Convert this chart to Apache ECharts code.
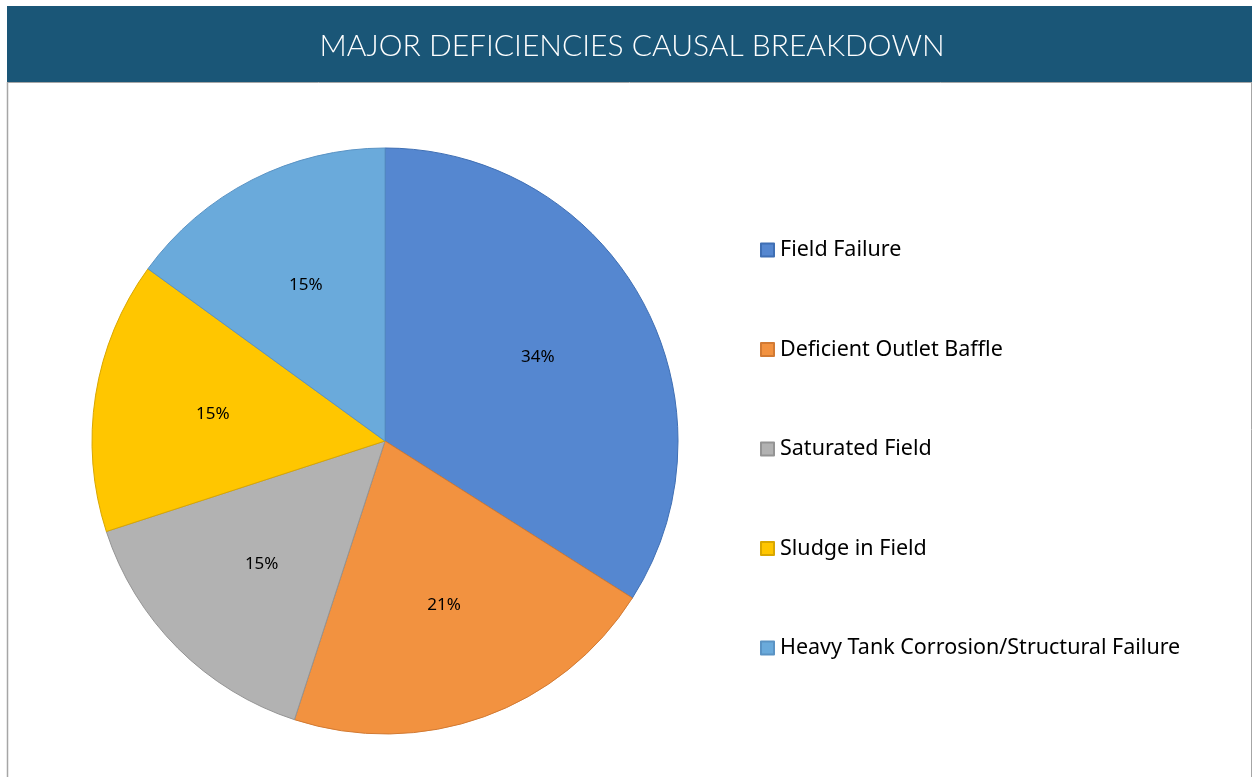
<!DOCTYPE html>
<html>
<head>
<meta charset="utf-8">
<title>Major Deficiencies Causal Breakdown</title>
<script src="https://cdn.jsdelivr.net/npm/echarts@6/dist/echarts.min.js"></script>
<style>
  html, body { margin: 0; padding: 0; background: #ffffff; }
  #chart { width: 1252px; height: 777px; }
</style>
</head>
<body>
<div id="chart"></div>
<script>
// Causes of major deficiencies and their share (percent)
const categories = [
  'Field Failure',
  'Deficient Outlet Baffle',
  'Saturated Field',
  'Sludge in Field',
  'Heavy Tank Corrosion/Structural Failure'
];
const shares = [34, 21, 15, 15, 15];

const fillColors = ['#5587D0', '#F29240', '#B2B2B2', '#FFC600', '#6AAADB'];
const edgeColors = ['#3F6FB4', '#D27A33', '#949494', '#D9A700', '#5A93C4'];

const chartTitle = 'MAJOR DEFICIENCIES CAUSAL BREAKDOWN';

const chart = echarts.init(document.getElementById('chart'), null, { renderer: 'canvas' });

const pieCenter = [385, 441];
const pieRadius = 293;

const sliceData = categories.map((name, i) => ({
  name,
  value: shares[i],
  itemStyle: { color: fillColors[i], borderColor: edgeColors[i], borderWidth: 1 }
}));

const option = {
  backgroundColor: '#ffffff',
  animation: false,
  graphic: [
    // header band
    { type: 'rect', shape: { x: 7, y: 6, width: 1245, height: 76 }, style: { fill: '#1A5677' }, z: 0 },
    // frame: rule under the header and side edges
    { type: 'line', shape: { x1: 7, y1: 82.5, x2: 1252, y2: 82.5 }, style: { stroke: '#A6A6A6', lineWidth: 1 }, z: 1 },
    { type: 'line', shape: { x1: 7.5, y1: 82, x2: 7.5, y2: 777 }, style: { stroke: '#A6A6A6', lineWidth: 1.5 }, z: 1 },
    { type: 'line', shape: { x1: 1251.5, y1: 82, x2: 1251.5, y2: 777 }, style: { stroke: '#A6A6A6', lineWidth: 1 }, z: 1 }
  ],
  title: {
    text: chartTitle,
    left: 632,
    top: 31,
    padding: 0,
    textAlign: 'center',
    textStyle: {
      color: '#ffffff',
      fontFamily: 'Lato',
      fontWeight: 300,
      fontSize: 30
    },
    z: 5
  },
  legend: {
    orient: 'vertical',
    left: 760,
    top: 239,
    padding: 0,
    itemWidth: 13,
    itemHeight: 13,
    itemGap: 77.5,
    icon: 'rect',
    data: categories,
    selectedMode: false,
    textStyle: {
      color: '#000000',
      fontFamily: 'Noto Sans',
      fontSize: 21.5,
      lineHeight: 20,
      padding: [0, 0, 0, 1]
    }
  },
  series: [
    {
      name: 'Causes',
      type: 'pie',
      center: pieCenter,
      radius: [0, pieRadius],
      startAngle: 90,
      clockwise: true,
      silent: true,
      data: sliceData,
      label: { show: false },
      labelLine: { show: false }
    },
    {
      // transparent ring used only to place the percentage labels a bit farther out
      name: 'Labels',
      type: 'pie',
      center: pieCenter,
      radius: [pieRadius * 0.17, pieRadius],
      startAngle: 90,
      clockwise: true,
      silent: true,
      data: categories.map((name, i) => ({ name, value: shares[i] })),
      itemStyle: { color: 'rgba(0,0,0,0)', borderWidth: 0 },
      label: {
        show: true,
        position: 'inside',
        formatter: p => p.value + '%',
        color: '#000000',
        fontFamily: 'Noto Sans',
        fontSize: 17
      },
      labelLine: { show: false },
      z: 3
    }
  ]
};

chart.setOption(option);
</script>
</body>
</html>
